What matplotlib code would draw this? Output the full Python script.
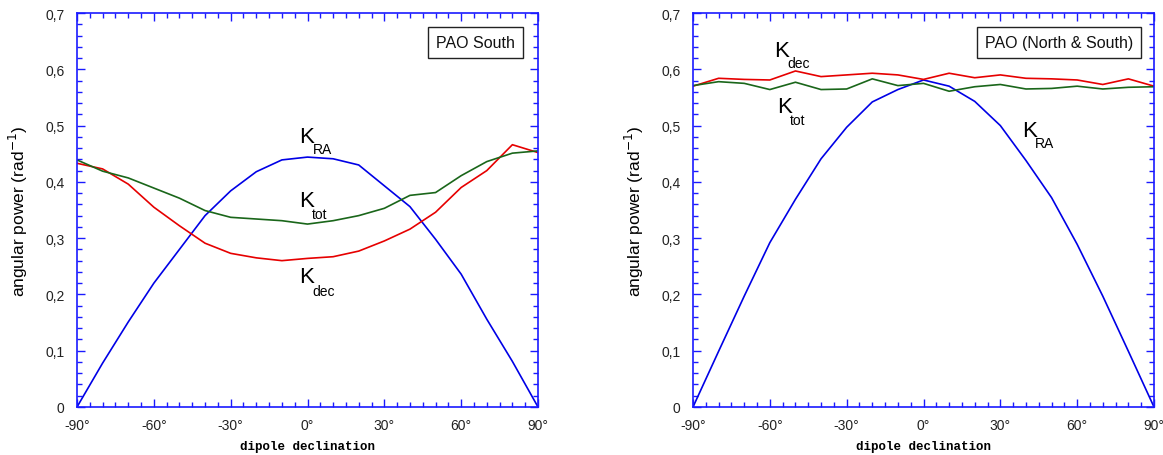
import numpy as np
import matplotlib
matplotlib.use('Agg')
import matplotlib.pyplot as plt
from matplotlib.ticker import MultipleLocator

plt.rcParams['font.family'] = ['Liberation Sans', 'DejaVu Sans']

# dipole declination (degrees)
decl = [-90, -80, -70, -60, -50, -40, -30, -20, -10, 0,
        10, 20, 30, 40, 50, 60, 70, 80, 90]

# PAO South
south_ra = [0.0, 0.078, 0.151, 0.220, 0.280, 0.340, 0.384, 0.418, 0.439, 0.444,
            0.441, 0.430, 0.393, 0.356, 0.298, 0.236, 0.156, 0.081, 0.0]
south_dec = [0.433, 0.423, 0.396, 0.355, 0.322, 0.291, 0.273, 0.265, 0.260, 0.264,
             0.267, 0.277, 0.295, 0.316, 0.346, 0.390, 0.420, 0.466, 0.452]
south_tot = [0.439, 0.419, 0.407, 0.389, 0.371, 0.349, 0.337, 0.334, 0.331, 0.325,
             0.331, 0.340, 0.353, 0.376, 0.381, 0.411, 0.436, 0.451, 0.455]

# PAO North & South
full_ra = [0.0, 0.099, 0.197, 0.292, 0.369, 0.441, 0.497, 0.542, 0.564, 0.581,
           0.570, 0.543, 0.500, 0.438, 0.372, 0.289, 0.197, 0.099, 0.0]
full_dec = [0.570, 0.584, 0.582, 0.581, 0.597, 0.587, 0.590, 0.593, 0.590, 0.582,
            0.593, 0.585, 0.590, 0.584, 0.583, 0.581, 0.573, 0.583, 0.570]
full_tot = [0.571, 0.578, 0.575, 0.564, 0.577, 0.564, 0.565, 0.583, 0.571, 0.575,
            0.561, 0.569, 0.573, 0.565, 0.566, 0.570, 0.565, 0.568, 0.569]

xticks = [-90, -60, -30, 0, 30, 60, 90]
xtick_labels = ['-90°', '-60°', '-30°', '0°', '30°', '60°', '90°']
yticks = [0, 0.1, 0.2, 0.3, 0.4, 0.5, 0.6, 0.7]
ytick_labels = ['0', '0,1', '0,2', '0,3', '0,4', '0,5', '0,6', '0,7']

titles = ['PAO South', 'PAO (North & South)']

BLUE = '#0000e6'
RED = '#e60000'
GREEN = '#1a661a'
AX_COL = '#1a1aff'

fig = plt.figure(figsize=(11.63, 4.56), dpi=100)
W, H = 1163, 456
ax1 = fig.add_axes([77 / W, 1 - 408 / H, 461 / W, 394 / H])
ax2 = fig.add_axes([693 / W, 1 - 408 / H, 461 / W, 394 / H])


def style(ax, title, bx):
    ax.set_xlim(-90, 90)
    ax.set_ylim(0, 0.7)
    ax.set_xticks(xticks, xtick_labels)
    ax.set_yticks(yticks, ytick_labels)
    ax.xaxis.set_minor_locator(MultipleLocator(5))
    ax.yaxis.set_minor_locator(MultipleLocator(0.02))
    ax.tick_params(which='both', direction='in', top=True, right=True,
                   color=AX_COL, labelsize=10, labelcolor='#222222', width=1)
    ax.tick_params(which='major', length=6)
    ax.tick_params(axis='y', which='major', pad=9)
    ax.tick_params(axis='x', which='major', pad=8)
    ax.tick_params(which='minor', length=3.5)
    for s in ax.spines.values():
        s.set_color(AX_COL)
        s.set_linewidth(1.2)
    ax.set_ylabel('angular power (rad$^{-1}$)', fontsize=12.5, labelpad=11)
    ax.set_xlabel('dipole declination', family='Liberation Mono',
                  weight='bold', fontsize=9, labelpad=6)
    ax.text(bx, 0.926, title, transform=ax.transAxes, ha='center', va='center',
            fontsize=11.5, color='#111111',
            bbox=dict(boxstyle='square,pad=0.5', fc='white', ec='#222222', lw=1))


def klabel(ax, x, y, sub, sx, sy):
    ax.text(x, y, 'K', fontsize=16, color='black', ha='left', va='baseline')
    ax.text(sx, sy, sub, fontsize=10, color='black', ha='left', va='baseline')


ax1.plot(decl, south_ra, color=BLUE, lw=1.2)
ax1.plot(decl, south_dec, color=RED, lw=1.2)
ax1.plot(decl, south_tot, color=GREEN, lw=1.2)
style(ax1, titles[0], 0.864)
klabel(ax1, -3.3, 0.471, 'RA', 2.1, 0.451)
klabel(ax1, -3.3, 0.357, 'tot', 1.8, 0.336)
klabel(ax1, -3.3, 0.222, 'dec', 1.8, 0.199)

ax2.plot(decl, full_ra, color=BLUE, lw=1.2)
ax2.plot(decl, full_dec, color=RED, lw=1.2)
ax2.plot(decl, full_tot, color=GREEN, lw=1.2)
style(ax2, titles[1], 0.794)
klabel(ax2, -58.4, 0.624, 'dec', -53.3, 0.604)
klabel(ax2, -57.2, 0.524, 'tot', -52.1, 0.503)
klabel(ax2, 38.5, 0.481, 'RA', 43.5, 0.462)

fig.savefig('out.png', dpi=100)
